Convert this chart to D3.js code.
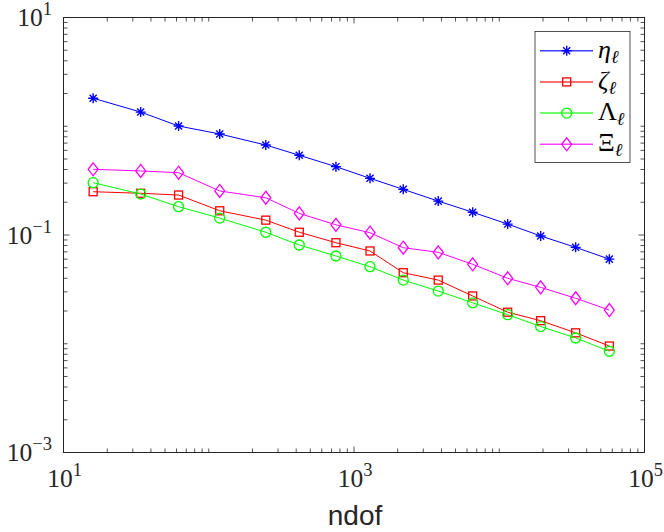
<!DOCTYPE html>
<html>
<head>
<meta charset="utf-8">
<script src="https://cdn.jsdelivr.net/npm/d3@7"></script>
<style>
  body { margin: 0; background: #fff; }
  svg { display: block; }
</style>
</head>
<body>
<svg id="chart" width="664" height="532"></svg>
<script>
// ndof for each refinement level
let ndof = [16, 34, 62, 119, 247, 420, 751, 1289, 2183, 3802, 6561, 11430, 19280, 33570, 57280];

// estimators
let eta = [1.81, 1.35, 1.005, 0.849, 0.672, 0.541, 0.425, 0.332, 0.263, 0.205, 0.162, 0.126, 0.098, 0.077, 0.060];
let zeta = [0.250, 0.242, 0.233, 0.167, 0.137, 0.106, 0.0849, 0.0713, 0.0450, 0.0385, 0.0275, 0.0195, 0.0163, 0.0126, 0.00953];
let lambda = [0.303, 0.238, 0.182, 0.143, 0.106, 0.0809, 0.0641, 0.0511, 0.0385, 0.0305, 0.0238, 0.0185, 0.0144, 0.0113, 0.00853];
let xi = [0.402, 0.388, 0.374, 0.254, 0.220, 0.158, 0.124, 0.105, 0.0764, 0.0693, 0.0538, 0.0400, 0.0330, 0.0262, 0.0204];

// tick labels
let xTickExps = [1, 3, 5];
let yTickExps = [-3, -1, 1];

let series = [
  { name: "η", italic: true, values: eta, color: "#0000ff", marker: "star" },
  { name: "ζ", italic: true, values: zeta, color: "#ff0000", marker: "square" },
  { name: "Λ", italic: false, values: lambda, color: "#00ff00", marker: "circle" },
  { name: "Ξ", italic: false, values: xi, color: "#ff00ff", marker: "diamond" }
];

let plotL = 63.5, plotR = 644.5, plotT = 17.5, plotB = 452.5;
let axisColor = "#262626";
let serif = "'Liberation Serif', 'DejaVu Serif', serif";

let x = d3.scaleLog().domain([10, 1e5]).range([plotL, plotR]);
let y = d3.scaleLog().domain([1e-3, 10]).range([plotB, plotT]);

let svg = d3.select("#chart");

// draw a marker of the given type at (cx, cy)
function drawMarker(g, type, cx, cy, color) {
  if(type == "star") {
    let r = 5;
    let d = "";
    for(let a of [0, 45, 90, 135]) {
      let rad = a * Math.PI / 180;
      let dx = r * Math.cos(rad), dy = r * Math.sin(rad);
      d += "M" + (cx - dx) + "," + (cy - dy) + "L" + (cx + dx) + "," + (cy + dy);
    }
    g.append("path").attr("d", d).attr("stroke", color).attr("stroke-width", 1.4).attr("fill", "none");
  } else if(type == "square") {
    g.append("rect").attr("x", cx - 4).attr("y", cy - 4).attr("width", 8).attr("height", 8)
      .attr("stroke", color).attr("stroke-width", 1.3).attr("fill", "none");
  } else if(type == "circle") {
    g.append("circle").attr("cx", cx).attr("cy", cy).attr("r", 5)
      .attr("stroke", color).attr("stroke-width", 1.3).attr("fill", "none");
  } else if(type == "diamond") {
    g.append("path")
      .attr("d", "M" + cx + "," + (cy - 6.5) + "L" + (cx + 5) + "," + cy + "L" + cx + "," + (cy + 6.5) + "L" + (cx - 5) + "," + cy + "Z")
      .attr("stroke", color).attr("stroke-width", 1.3).attr("fill", "none");
  }
}

// ticks: major at labelled decades, minor everywhere else
function logTicks(lo, hi) {
  let out = [];
  for(let e = lo; e < hi; e++) {
    for(let m = 1; m < 10; m++) out.push(m * Math.pow(10, e));
  }
  out.push(Math.pow(10, hi));
  return out;
}

let tickG = svg.append("g").attr("stroke", axisColor).attr("stroke-width", 0.8);
for(let v of logTicks(1, 5)) {
  let e = Math.log10(v);
  let major = Math.abs(e - Math.round(e)) < 1e-9 && xTickExps.includes(Math.round(e));
  let len = major ? 6 : 4;
  let px = x(v);
  tickG.append("line").attr("x1", px).attr("x2", px).attr("y1", plotB).attr("y2", plotB - len);
  tickG.append("line").attr("x1", px).attr("x2", px).attr("y1", plotT).attr("y2", plotT + len);
}
for(let v of logTicks(-3, 1)) {
  let e = Math.log10(v);
  let major = Math.abs(e - Math.round(e)) < 1e-9 && yTickExps.includes(Math.round(e));
  let len = major ? 6 : 4;
  let py = y(v);
  tickG.append("line").attr("x1", plotL).attr("x2", plotL + len).attr("y1", py).attr("y2", py);
  tickG.append("line").attr("x1", plotR).attr("x2", plotR - len).attr("y1", py).attr("y2", py);
}

// axes box
svg.append("rect").attr("x", plotL).attr("y", plotT)
  .attr("width", plotR - plotL).attr("height", plotB - plotT)
  .attr("fill", "none").attr("stroke", axisColor).attr("stroke-width", 1);

// tick labels 10^k
function powerLabel(g, exp) {
  let t = g.append("text").attr("font-family", serif).attr("fill", "#262626");
  t.append("tspan").attr("font-size", 25.5).text("10");
  t.append("tspan").attr("font-size", 18.5).attr("dy", -11).text(exp < 0 ? "−" + Math.abs(exp) : exp);
  return t;
}
for(let e of xTickExps) {
  powerLabel(svg, e).attr("x", x(Math.pow(10, e)) + 1).attr("y", plotB + 34).attr("text-anchor", "middle");
}
for(let e of yTickExps) {
  powerLabel(svg, e).attr("x", plotL - 11.5).attr("y", y(Math.pow(10, e)) + 8.5).attr("text-anchor", "end");
}

// x label
svg.append("text").attr("x", (plotL + plotR) / 2 + 1).attr("y", 525)
  .attr("text-anchor", "middle").attr("font-family", "'Liberation Sans', Arial, sans-serif")
  .attr("font-size", 28).attr("fill", "#262626").text("ndof");

// data lines and markers
let line = d3.line().x(d => x(d[0])).y(d => y(d[1]));
for(let s of series) {
  let pts = ndof.map((n, i) => [n, s.values[i]]);
  let g = svg.append("g");
  g.append("path").attr("d", line(pts)).attr("stroke", s.color).attr("stroke-width", 1).attr("fill", "none");
  for(let p of pts) drawMarker(g, s.marker, x(p[0]), y(p[1]), s.color);
}

// legend
let lg = svg.append("g");
lg.append("rect").attr("x", 535).attr("y", 31.5).attr("width", 95).attr("height", 131)
  .attr("fill", "#fff").attr("stroke", axisColor).attr("stroke-width", 0.8);
series.forEach((s, i) => {
  let ry = 50.7 + i * 31.2;
  lg.append("line").attr("x1", 540).attr("x2", 593).attr("y1", ry).attr("y2", ry)
    .attr("stroke", s.color).attr("stroke-width", 1.5).attr("opacity", 0.75);
  drawMarker(lg, s.marker, 566.7, ry, s.color);
  let t = lg.append("text").attr("x", 598).attr("y", ry + 7).attr("font-family", serif).attr("fill", "#000");
  t.append("tspan").attr("font-size", 26).attr("font-style", s.italic ? "italic" : "normal").text(s.name);
  t.append("tspan").attr("font-size", 18).attr("font-style", "italic").attr("dy", 5).text("ℓ");
});
</script>
</body>
</html>
